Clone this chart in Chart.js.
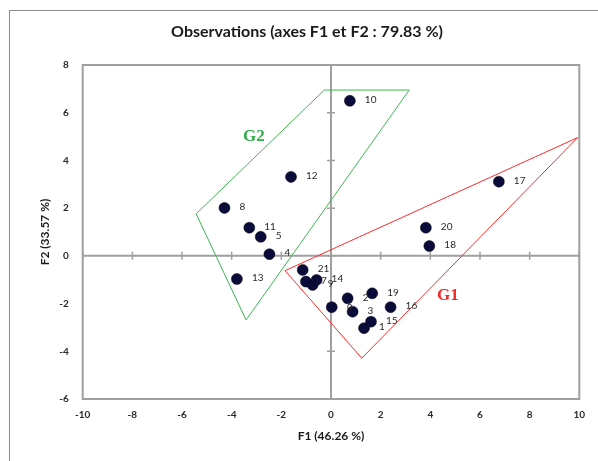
<!DOCTYPE html>
<html>
<head>
<meta charset="utf-8">
<script src="https://cdn.jsdelivr.net/npm/chart.js@4.4.0/dist/chart.umd.min.js"></script>
<style>
  body { margin: 0; background: #fff; }
  #wrap { width: 598px; height: 461px; position: relative; }
</style>
</head>
<body>
<div id="wrap"><canvas id="myChart"></canvas></div>
<script>
// observations (F1, F2 coordinates)
var obsLabels = ['1','2','3','4','5','6','7','8','9','10','11','12','13','14','15','16','17','18','19','20','21'];
var f1 = [1.33, 0.67, 0.87, -2.48, -2.83, 0.03, -1.01, -4.29, -0.74, 0.76, -3.29, -1.61, -3.79, -0.58, 1.61, 2.40, 6.76, 3.96, 1.66, 3.82, -1.14];
var f2 = [-3.03, -1.78, -2.34, 0.07, 0.80, -2.15, -1.08, 2.01, -1.22, 6.50, 1.18, 3.31, -0.97, -1.01, -2.76, -2.15, 3.11, 0.41, -1.57, 1.18, -0.59];

// group outlines
var g1X = [-1.85, 9.94, 1.24, -1.85];
var g1Y = [-0.62, 4.96, -4.29, -0.62];
var g2X = [-5.43, -0.27, 3.15, -3.42, -5.43];
var g2Y = [1.76, 6.95, 6.95, -2.69, 1.76];

var groupNames = ['G1', 'G2'];
var groupPos = [[4.71, -1.68], [-3.11, 4.98]];
var groupColors = ['#ee2a2a', '#2fae47'];

function pts(xs, ys) {
  return xs.map(function (x, i) { return { x: x, y: ys[i] }; });
}

var extras = {
  id: 'extras',
  beforeDraw: function (chart) {
    var ctx = chart.ctx;
    ctx.save();
    ctx.strokeStyle = '#8c8c8c';
    ctx.lineWidth = 1;
    ctx.strokeRect(9.5, 10.5, 700, 600);
    ctx.fillStyle = '#1a1a1a';
    ctx.font = 'bold 16px Lato';
    ctx.textAlign = 'center';
    ctx.textBaseline = 'middle';
    ctx.fillText('Observations (axes F1 et F2 : 79.83 %)', 307, 32);
    ctx.restore();
  },
  beforeDatasetsDraw: function (chart) {
    var ctx = chart.ctx, a = chart.chartArea;
    var xs = chart.scales.x, ys = chart.scales.y;
    ctx.save();
    ctx.strokeStyle = '#a0a0a0';
    ctx.lineWidth = 2;
    ctx.strokeRect(a.left, a.top, a.right - a.left, a.bottom - a.top);
    var x0 = xs.getPixelForValue(0), y0 = ys.getPixelForValue(0);
    ctx.beginPath();
    ctx.moveTo(a.left, y0); ctx.lineTo(a.right, y0);
    ctx.moveTo(x0, a.top); ctx.lineTo(x0, a.bottom);
    ctx.stroke();
    ctx.lineWidth = 1.5;
    ctx.beginPath();
    xs.ticks.forEach(function (t) {
      var px = xs.getPixelForValue(t.value);
      ctx.moveTo(px, y0 - 4); ctx.lineTo(px, y0 + 4);
    });
    ys.ticks.forEach(function (t) {
      var py = ys.getPixelForValue(t.value);
      ctx.moveTo(x0 - 4, py); ctx.lineTo(x0 + 4, py);
    });
    ctx.stroke();
    ctx.restore();
  },
  afterDatasetsDraw: function (chart) {
    var ctx = chart.ctx;
    var xs = chart.scales.x, ys = chart.scales.y;
    ctx.save();
    ctx.fillStyle = '#2a2a2a';
    ctx.font = '10px Lato';
    ctx.textAlign = 'left';
    ctx.textBaseline = 'middle';
    obsLabels.forEach(function (lab, i) {
      ctx.fillText(lab, xs.getPixelForValue(f1[i]) + 15, ys.getPixelForValue(f2[i]) - 1);
    });
    ctx.font = 'bold 17px "Liberation Serif"';
    ctx.textAlign = 'center';
    groupNames.forEach(function (g, i) {
      ctx.fillStyle = groupColors[i];
      ctx.fillText(g, xs.getPixelForValue(groupPos[i][0]), ys.getPixelForValue(groupPos[i][1]));
    });
    ctx.restore();
  }
};

new Chart(document.getElementById('myChart'), {
  type: 'scatter',
  data: {
    datasets: [
      {
        label: 'Observations',
        data: pts(f1, f2),
        pointRadius: 5.5,
        backgroundColor: '#0b0b3a',
        borderColor: '#000014',
        borderWidth: 0.5,
        order: 0
      },
      {
        label: 'G1',
        data: pts(g1X, g1Y),
        showLine: true,
        pointRadius: 0,
        borderColor: '#ff2b2b',
        borderWidth: 1,
        order: 1
      },
      {
        label: 'G2',
        data: pts(g2X, g2Y),
        showLine: true,
        pointRadius: 0,
        borderColor: '#3cb850',
        borderWidth: 1,
        order: 1
      }
    ]
  },
  options: {
    responsive: true,
    maintainAspectRatio: false,
    animation: false,
    layout: { padding: { left: 0, right: 18.7, top: 65, bottom: 0 } },
    plugins: {
      legend: { display: false },
      title: { display: false },
      tooltip: { enabled: false }
    },
    scales: {
      x: {
        min: -10, max: 10,
        grid: { display: false, drawTicks: false },
        border: { display: false },
        ticks: { stepSize: 2, padding: 10, color: '#2a2a2a', font: { family: 'Lato', size: 10, weight: 'bold' } },
        title: { display: true, text: 'F1 (46.26 %)', color: '#1a1a1a', font: { family: 'Lato', size: 12, weight: 'bold' }, padding: { top: 0, bottom: 17.5 } },
        afterFit: function (s) { s.height = 62; }
      },
      y: {
        min: -6, max: 8,
        grid: { display: false, drawTicks: false },
        border: { display: false },
        ticks: { stepSize: 2, padding: 14, color: '#2a2a2a', font: { family: 'Lato', size: 10, weight: 'bold' } },
        title: { display: true, text: 'F2 (33.57 %)', color: '#1a1a1a', font: { family: 'Lato', size: 12, weight: 'bold' }, padding: { top: 38, bottom: 0 } },
        afterFit: function (s) { s.width = 82.7; }
      }
    }
  },
  plugins: [extras]
});
</script>
</body>
</html>
